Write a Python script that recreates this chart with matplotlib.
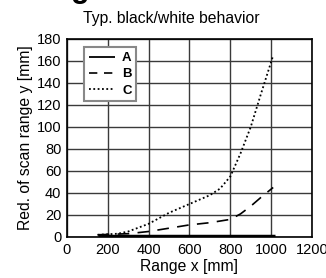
import matplotlib
matplotlib.use("Agg")
import matplotlib.pyplot as plt

plt.rcParams["font.family"] = ["Liberation Sans", "DejaVu Sans"]

# curves
x_a = [150, 300, 500, 700, 900, 1020]
y_a = [1, 1, 1, 1, 1, 1]

x_b = [150, 300, 400, 500, 600, 700, 800, 850, 900, 950, 1010]
y_b = [2, 3, 5, 8, 11, 13, 16, 21, 28, 36, 45]

x_c = [150, 250, 300, 400, 500, 600, 700, 750, 800, 850, 900, 950, 1010]
y_c = [2, 3, 5, 12, 22, 30, 38, 44, 55, 76, 100, 130, 165]

labels = ["A", "B", "C"]
x_ticks = [0, 200, 400, 600, 800, 1000, 1200]
y_ticks = [0, 20, 40, 60, 80, 100, 120, 140, 160, 180]

fig = plt.figure(figsize=(3.26, 2.78), dpi=100)
ax = fig.add_axes([0.2055, 0.1475, 0.7515, 0.7125])

ax.plot(x_a, y_a, color="black", lw=2.5, solid_capstyle="butt", label=labels[0])
ax.plot(x_b, y_b, color="black", lw=1.2, dashes=(7, 5), label=labels[1])
ax.plot(x_c, y_c, color="black", lw=1.3, ls=(0, (1, 1.4)), label=labels[2])

ax.set_xlim(0, 1200)
ax.set_ylim(0, 180)
ax.set_xticks(x_ticks)
ax.set_yticks(y_ticks)
ax.grid(True, color="#3a3a3a", lw=1.0)
ax.set_axisbelow(True)
for s in ax.spines.values():
    s.set_linewidth(1.2)
ax.tick_params(labelsize=10.5, length=0, pad=4)

fig.text(171 / 326, 1 - 18 / 278, "Typ. black/white behavior", ha="center", va="center",
         fontsize=11.3)
ax.set_xlabel("Range x [mm]", fontsize=11.3, labelpad=2)
ax.set_ylabel("Red. of scan range y [mm]", fontsize=11.3, labelpad=3)

leg = ax.legend(loc="upper left", bbox_to_anchor=(0.069, 0.957), borderaxespad=0,
                fontsize=9.5, handlelength=2.0, handletextpad=0.55, labelspacing=0.3,
                borderpad=0.35, fancybox=False, framealpha=1, edgecolor="#888888")
leg.get_frame().set_linewidth(1.5)
leg.legend_handles[0].set_linewidth(1.3)
leg.legend_handles[1].set_dashes((5, 4))
for t in leg.get_texts():
    t.set_fontweight("bold")

# cut-off heading glyph at the top edge
fig.text(80 / 326, 1 + 3 / 278, "g", ha="center", va="baseline", fontsize=22, weight="bold")

fig.savefig("out.png", dpi=100)
